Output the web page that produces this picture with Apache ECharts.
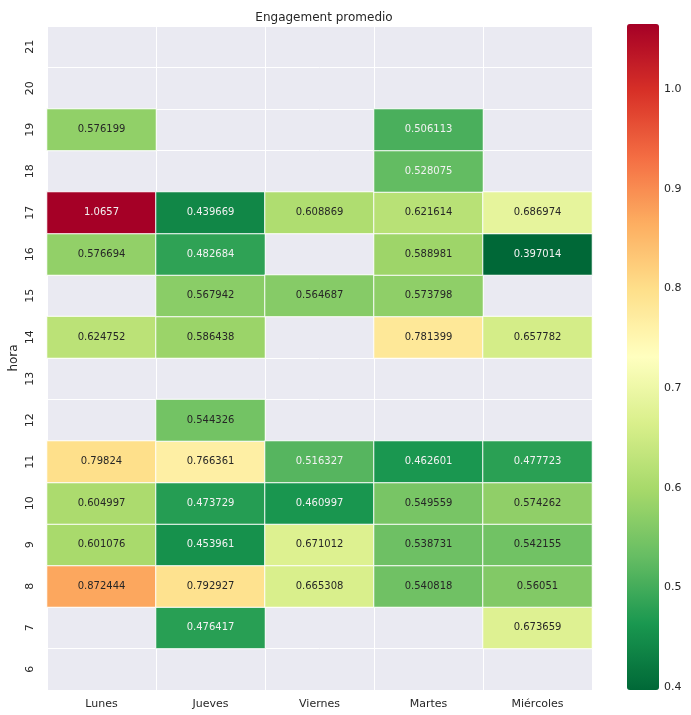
<!DOCTYPE html>
<html>
<head>
<meta charset="utf-8">
<script src="https://cdn.jsdelivr.net/npm/echarts@6/dist/echarts.min.js"></script>
<style>
  html, body { margin: 0; padding: 0; background: #ffffff; }
  #chart { width: 691px; height: 715px; }
</style>
</head>
<body>
<div id="chart"></div>
<script>
// Days shown along the x axis (in source order)
const dias = ['Lunes', 'Jueves', 'Viernes', 'Martes', 'Miércoles'];
// Hours shown along the y axis, bottom to top
const horas = ['6', '7', '8', '9', '10', '11', '12', '13', '14', '15', '16', '17', '18', '19', '20', '21'];

// Average engagement per hour, one list per day (null = no posts)
const lunes     = [null, null, 0.872444, 0.601076, 0.604997, 0.79824, null, null, 0.624752, null, 0.576694, 1.0657, null, 0.576199, null, null];
const jueves    = [null, 0.476417, 0.792927, 0.453961, 0.473729, 0.766361, 0.544326, null, 0.586438, 0.567942, 0.482684, 0.439669, null, null, null, null];
const viernes   = [null, null, 0.665308, 0.671012, 0.460997, 0.516327, null, null, null, 0.564687, null, 0.608869, null, null, null, null];
const martes    = [null, null, 0.540818, 0.538731, 0.549559, 0.462601, null, null, 0.781399, 0.573798, 0.588981, 0.621614, 0.528075, 0.506113, null, null];
const miercoles = [null, 0.673659, 0.56051, 0.542155, 0.574262, 0.477723, null, null, 0.657782, null, 0.397014, 0.686974, null, null, null, null];

// Colour bar ticks
const barTicks = [0.4, 0.5, 0.6, 0.7, 0.8, 0.9, 1.0];

const columnas = [lunes, jueves, viernes, martes, miercoles];

// RdYlGn reversed: low = green, high = red
const paleta = ['#006837', '#1a9850', '#66bd63', '#a6d96a', '#d9ef8b', '#ffffbf',
                '#fee08b', '#fdae61', '#f46d43', '#d73027', '#a50026'];

let vmin = Infinity, vmax = -Infinity;
columnas.forEach(c => c.forEach(v => { if (v != null) { vmin = Math.min(vmin, v); vmax = Math.max(vmax, v); } }));

function hexRgb(h) {
  return [parseInt(h.slice(1, 3), 16), parseInt(h.slice(3, 5), 16), parseInt(h.slice(5, 7), 16)];
}
function colorDe(v) {
  const t = Math.min(1, Math.max(0, (v - vmin) / (vmax - vmin))) * (paleta.length - 1);
  const i = Math.min(paleta.length - 2, Math.floor(t));
  const f = t - i;
  const a = hexRgb(paleta[i]), b = hexRgb(paleta[i + 1]);
  return a.map((x, k) => x + (b[k] - x) * f);
}
// light text on dark cells, dark grey on light ones
function esOscuro(v) {
  const lin = colorDe(v).map(c => {
    c /= 255;
    return c <= 0.03928 ? c / 12.92 : Math.pow((c + 0.055) / 1.055, 2.4);
  });
  const l = 0.2126 * lin[0] + 0.7152 * lin[1] + 0.0722 * lin[2];
  return l <= 0.408;
}

const celdas = [];
columnas.forEach((col, x) => {
  col.forEach((v, y) => {
    if (v != null) celdas.push([x, y, v]);
  });
});

const fuente = 'DejaVu Sans';
const gris = '#262626';

const chart = echarts.init(document.getElementById('chart'));
chart.setOption({
  animation: false,
  backgroundColor: '#ffffff',
  textStyle: { fontFamily: fuente },
  title: {
    text: 'Engagement promedio',
    left: 319, top: 7,
    textAlign: 'center',
    textStyle: { fontFamily: fuente, fontSize: 12, fontWeight: 'normal', color: gris }
  },
  grid: [
    { left: 47, right: 99, top: 26, bottom: 25, show: true, backgroundColor: '#EAEAF2',
      borderWidth: 0, outerBoundsMode: 'none', containLabel: false },
    { left: 627, width: 32, top: 24, bottom: 25, show: false, outerBoundsMode: 'none', containLabel: false }
  ],
  xAxis: [
    {
      type: 'category', data: dias, gridIndex: 0,
      axisLine: { show: false }, axisTick: { show: false },
      splitLine: { show: true, lineStyle: { color: '#ffffff', width: 1 } },
      axisLabel: { fontFamily: fuente, fontSize: 11, color: gris, margin: 9 }
    },
    { type: 'value', gridIndex: 1, show: false, min: 0, max: 1 }
  ],
  yAxis: [
    {
      type: 'category', data: horas, gridIndex: 0,
      name: 'hora', nameLocation: 'middle', nameGap: 27, nameRotate: 90,
      nameMoveOverlap: false,
      nameTextStyle: { fontFamily: fuente, fontSize: 12, color: gris },
      axisLine: { show: false }, axisTick: { show: false },
      splitLine: { show: true, lineStyle: { color: '#ffffff', width: 1 } },
      axisLabel: { fontFamily: fuente, fontSize: 11, color: gris, rotate: 90, margin: 11 }
    },
    {
      type: 'value', gridIndex: 1, position: 'right',
      min: vmin, max: vmax,
      axisLine: { show: false },
      splitLine: { show: false },
      axisTick: { show: true, length: 4, lineStyle: { color: '#555555' }, customValues: barTicks },
      axisLabel: { fontFamily: fuente, fontSize: 11, color: gris, margin: 5, customValues: barTicks,
                   formatter: v => v.toFixed(1) }
    }
  ],
  visualMap: {
    type: 'continuous',
    seriesIndex: 0,
    min: vmin, max: vmax,
    calculable: false,
    orient: 'vertical',
    left: 627, top: 24,
    itemWidth: 32, itemHeight: 666,
    padding: 0,
    text: null,
    showLabel: false,
    inRange: { color: paleta }
  },
  series: [
    {
      type: 'heatmap',
      xAxisIndex: 0, yAxisIndex: 0,
      data: celdas,
      itemStyle: { borderColor: '#ffffff', borderWidth: 1 },
      label: {
        show: true,
        fontFamily: fuente, fontSize: 10,
        formatter: p => (esOscuro(p.value[2]) ? '{w|' : '{d|') + String(p.value[2]) + '}',
        rich: {
          w: { color: '#f2f2f2', fontFamily: fuente, fontSize: 10 },
          d: { color: gris, fontFamily: fuente, fontSize: 10 }
        }
      },
      emphasis: { disabled: true }
    },
    {
      type: 'scatter', xAxisIndex: 1, yAxisIndex: 1, data: [], silent: true
    }
  ]
});
</script>
</body>
</html>
